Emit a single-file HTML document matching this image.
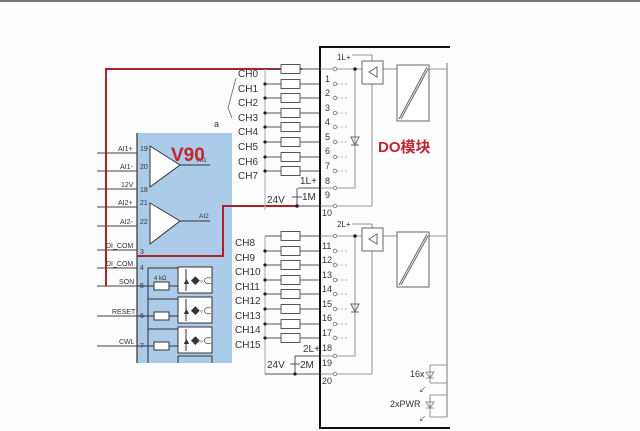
<!DOCTYPE html>
<html><head><meta charset="utf-8"><style>
html,body{margin:0;padding:0;background:#fdfcfe;}
svg{display:block;}
text{font-family:"Liberation Sans","Noto Sans CJK SC",sans-serif;fill:#333;}
</style></head><body>
<svg width="640" height="431" viewBox="0 0 640 431" xmlns="http://www.w3.org/2000/svg">
<defs>
<g id="res"><rect x="0" y="-4.5" width="19" height="9" fill="#fff" stroke="#555" stroke-width="1"/></g>
<g id="term"><circle cx="335" cy="0" r="1.8" fill="#fff" stroke="#777" stroke-width="0.8"/><line x1="337" y1="0" x2="348" y2="0" stroke="#999" stroke-width="0.8" stroke-dasharray="2,2"/></g>
</defs>
<rect x="0" y="0" width="640" height="431" fill="#fdfcfe"/>
<line x1="0" y1="1" x2="640" y2="1" stroke="#777" stroke-width="2"/>

<rect x="137" y="133" width="95" height="230" fill="#abcbe8"/>
<line x1="137" y1="133" x2="137" y2="363" stroke="#333" stroke-width="1.2"/>
<g stroke="#444" stroke-width="1">
<line x1="97" y1="153" x2="137" y2="153"/><line x1="97" y1="171" x2="137" y2="171"/>
<line x1="97" y1="189" x2="137" y2="189"/><line x1="97" y1="207" x2="137" y2="207"/>
<line x1="97" y1="226" x2="137" y2="226"/><line x1="97" y1="250" x2="137" y2="250"/>
<line x1="97" y1="268" x2="137" y2="268"/><line x1="97" y1="286" x2="137" y2="286"/>
<line x1="97" y1="316" x2="137" y2="316"/><line x1="97" y1="346" x2="137" y2="346"/>
</g>
<g font-size="7">
<text x="118" y="151">AI1+</text><text x="120" y="169">AI1-</text><text x="121" y="187">12V</text>
<text x="118" y="205">AI2+</text><text x="120" y="224">AI2-</text><text x="106" y="248">DI_COM</text>
<text x="106" y="266">DI_COM</text><text x="119" y="284">SON</text><text x="112" y="314">RESET</text><text x="119" y="344">CWL</text>
<text x="140" y="151" fill="#246">19</text><text x="140" y="169" fill="#246">20</text><text x="140" y="192" fill="#246">18</text>
<text x="140" y="205" fill="#246">21</text><text x="140" y="224" fill="#246">22</text><text x="140" y="254" fill="#246">3</text>
<text x="140" y="270" fill="#246">4</text><text x="140" y="288" fill="#246">5</text><text x="140" y="318" fill="#246">6</text><text x="140" y="348" fill="#246">7</text>
</g>
<g fill="#fff" stroke="#333" stroke-width="1">
<path d="M150 146 L180 165 L150 187 Z"/><path d="M150 203 L180 221 L150 244 Z"/>
</g>
<line x1="180" y1="165" x2="210" y2="165" stroke="#333"/><line x1="180" y1="221" x2="210" y2="221" stroke="#333"/>
<text x="197" y="162" font-size="6.5">AI1</text><text x="199" y="218" font-size="6.5">AI2</text>
<text x="171" y="161" font-size="19" font-weight="bold" style="fill:#c0262e">V90</text>
<line x1="148" y1="268" x2="148" y2="363" stroke="#234" stroke-width="1"/>
<g stroke="#333" fill="#fff">
<rect x="178" y="267" width="34" height="26"/><rect x="178" y="297" width="34" height="26"/><rect x="178" y="327" width="34" height="26"/>
<path d="M178 356 H212 M178 356 V363 M212 356 V363" fill="none"/>
<rect x="154" y="282" width="15" height="8"/><rect x="154" y="312" width="15" height="8"/><rect x="154" y="342" width="15" height="8"/>
</g>
<g stroke="#333" stroke-width="1">
<line x1="137" y1="286" x2="154" y2="286"/><line x1="169" y1="286" x2="178" y2="286"/>
<line x1="137" y1="316" x2="154" y2="316"/><line x1="169" y1="316" x2="178" y2="316"/>
<line x1="137" y1="346" x2="154" y2="346"/><line x1="169" y1="346" x2="178" y2="346"/>
<line x1="148" y1="268" x2="178" y2="268"/><line x1="148" y1="299" x2="178" y2="299"/><line x1="148" y1="329" x2="178" y2="329"/>
<line x1="186" y1="269" x2="186" y2="291"/><line x1="186" y1="299" x2="186" y2="321"/><line x1="186" y1="329" x2="186" y2="351"/>
</g>
<g font-size="9" fill="#111">
<text x="182" y="284">▲◆◦⊂</text><text x="182" y="314">▲◆◦⊂</text><text x="182" y="344">▲◆◦⊂</text>
</g>
<text x="154" y="280" font-size="6">4 kΩ</text>

<g stroke="#b0202a" stroke-width="2" fill="none">
<path d="M302 69 H106 V286"/>
<path d="M296 206 H223 V256 H137"/>
</g>

<path d="M236 78 L228 108 L232 118" fill="none" stroke="#666" stroke-width="0.8"/>
<text x="214" y="127" font-size="9">a</text>

<line x1="265" y1="69" x2="265" y2="210" stroke="#aaa" stroke-width="1"/>
<g stroke="#555" stroke-width="1">
<line x1="265" y1="69" x2="320" y2="69"/><line x1="265" y1="84" x2="320" y2="84"/><line x1="265" y1="98" x2="320" y2="98"/>
<line x1="265" y1="113" x2="320" y2="113"/><line x1="265" y1="127" x2="320" y2="127"/><line x1="265" y1="142" x2="320" y2="142"/>
<line x1="265" y1="157" x2="320" y2="157"/><line x1="265" y1="171" x2="320" y2="171"/>
<line x1="298" y1="188" x2="320" y2="188"/><line x1="297" y1="188" x2="297" y2="206"/><line x1="292" y1="197" x2="302" y2="197"/>
<line x1="320" y1="206" x2="296" y2="206"/>
</g>
<use href="#res" x="281" y="69"/><use href="#res" x="281" y="84"/><use href="#res" x="281" y="98"/><use href="#res" x="281" y="113"/>
<use href="#res" x="281" y="127"/><use href="#res" x="281" y="142"/><use href="#res" x="281" y="157"/><use href="#res" x="281" y="171"/>
<g fill="#222"><circle cx="265" cy="84" r="1.6"/><circle cx="265" cy="98" r="1.6"/><circle cx="265" cy="113" r="1.6"/><circle cx="265" cy="127" r="1.6"/><circle cx="265" cy="142" r="1.6"/><circle cx="265" cy="157" r="1.6"/><circle cx="265" cy="171" r="1.6"/><circle cx="297" cy="206" r="1.8"/></g>
<g font-size="10">
<text x="238" y="77">CH0</text><text x="238" y="92">CH1</text><text x="238" y="106">CH2</text><text x="238" y="121">CH3</text>
<text x="238" y="135">CH4</text><text x="238" y="150">CH5</text><text x="238" y="165">CH6</text><text x="238" y="179">CH7</text>
<text x="300" y="184">1L+</text><text x="267" y="203">24V</text><text x="302" y="200">1M</text>
</g>

<line x1="265" y1="236" x2="265" y2="374" stroke="#aaa" stroke-width="1"/>
<g stroke="#555" stroke-width="1">
<line x1="265" y1="236" x2="320" y2="236"/><line x1="265" y1="251" x2="320" y2="251"/><line x1="265" y1="265" x2="320" y2="265"/>
<line x1="265" y1="280" x2="320" y2="280"/><line x1="265" y1="294" x2="320" y2="294"/><line x1="265" y1="309" x2="320" y2="309"/>
<line x1="265" y1="324" x2="320" y2="324"/><line x1="265" y1="338" x2="320" y2="338"/>
<line x1="265" y1="374" x2="320" y2="374"/><line x1="295" y1="374" x2="295" y2="356"/><line x1="295" y1="356" x2="320" y2="356"/>
<line x1="290" y1="364" x2="300" y2="364"/>
</g>
<use href="#res" x="281" y="236"/><use href="#res" x="281" y="251"/><use href="#res" x="281" y="265"/><use href="#res" x="281" y="280"/>
<use href="#res" x="281" y="294"/><use href="#res" x="281" y="309"/><use href="#res" x="281" y="324"/><use href="#res" x="281" y="338"/>
<g fill="#222"><circle cx="265" cy="251" r="1.6"/><circle cx="265" cy="265" r="1.6"/><circle cx="265" cy="280" r="1.6"/><circle cx="265" cy="294" r="1.6"/><circle cx="265" cy="309" r="1.6"/><circle cx="265" cy="324" r="1.6"/><circle cx="265" cy="338" r="1.6"/><circle cx="295" cy="374" r="1.6"/></g>
<g font-size="10">
<text x="235" y="246">CH8</text><text x="235" y="261">CH9</text><text x="235" y="275">CH10</text><text x="235" y="290">CH11</text>
<text x="235" y="304">CH12</text><text x="235" y="319">CH13</text><text x="235" y="333">CH14</text><text x="235" y="348">CH15</text>
<text x="303" y="352">2L+</text><text x="267" y="368">24V</text><text x="300" y="368">2M</text>
</g>

<path d="M450 47 H320 V428 H450" fill="none" stroke="#111" stroke-width="2"/>
<line x1="447" y1="63" x2="447" y2="417" stroke="#777" stroke-width="1"/>
<g stroke="#777" stroke-width="0.8">
<line x1="320" y1="69" x2="362" y2="69"/><line x1="320" y1="188" x2="355" y2="188"/><line x1="355" y1="69" x2="355" y2="188"/>
<path d="M352 55 H372 V206 H320" fill="none"/>
<line x1="320" y1="236" x2="362" y2="236"/><line x1="320" y1="356" x2="355" y2="356"/><line x1="355" y1="236" x2="355" y2="356"/>
<path d="M352 224 H372 V374 H320" fill="none"/>
<line x1="383" y1="69" x2="397" y2="69"/><line x1="429" y1="69" x2="447" y2="69"/>
<line x1="383" y1="236" x2="397" y2="236"/><line x1="429" y1="236" x2="447" y2="236"/>
</g>
<g fill="#fff" stroke="#666" stroke-width="1">
<rect x="362" y="61" width="21" height="23"/><rect x="362" y="228" width="21" height="23"/>
<rect x="397" y="65" width="32" height="56"/><rect x="397" y="232" width="32" height="55"/>
</g>
<g stroke="#666" stroke-width="1" fill="none">
<path d="M377 67 L369 72 L377 77 Z"/><path d="M377 234 L369 239 L377 244 Z"/>
<path d="M399 119 L427 67 M401 119 L428 69"/><path d="M399 285 L427 234 M401 285 L428 236"/>
<path d="M351 137 H359 L355 145 Z M351 145 H359"/><path d="M351 304 H359 L355 312 Z M351 312 H359"/>
</g>
<g fill="#222"><circle cx="355" cy="69" r="1.8"/><circle cx="355" cy="236" r="1.8"/></g>
<g font-size="8">
<text x="337" y="60">1L+</text><text x="337" y="227">2L+</text>
</g>
<g font-size="9">
<text x="325" y="82">1</text><text x="325" y="96">2</text><text x="325" y="111">3</text><text x="325" y="125">4</text>
<text x="325" y="140">5</text><text x="325" y="154">6</text><text x="325" y="169">7</text><text x="325" y="184">8</text>
<text x="325" y="198">9</text><text x="322" y="216">10</text>
<text x="322" y="249">11</text><text x="322" y="263">12</text><text x="322" y="278">13</text><text x="322" y="292">14</text>
<text x="322" y="307">15</text><text x="322" y="321">16</text><text x="322" y="336">17</text><text x="322" y="351">18</text>
<text x="322" y="366">19</text><text x="322" y="384">20</text>
</g>
<use href="#term" y="69"/><use href="#term" y="84"/><use href="#term" y="98"/><use href="#term" y="113"/><use href="#term" y="127"/>
<use href="#term" y="142"/><use href="#term" y="157"/><use href="#term" y="171"/><use href="#term" y="188"/><use href="#term" y="206"/>
<use href="#term" y="236"/><use href="#term" y="251"/><use href="#term" y="265"/><use href="#term" y="280"/><use href="#term" y="294"/>
<use href="#term" y="309"/><use href="#term" y="324"/><use href="#term" y="338"/><use href="#term" y="356"/><use href="#term" y="374"/>
<text x="378" y="152" font-size="15" font-weight="bold" style="fill:#c0262e">DO模块</text>
<g stroke="#777" stroke-width="0.8" fill="none">
<path d="M430 365 H447 M430 383 H447 M430 365 V383 M426 372 H434 L430 378 Z M426 378 H434"/>
<path d="M430 395 H447 M430 417 H447 M430 395 V417 M426 402 H434 L430 408 Z M426 408 H434"/>
</g>
<text x="410" y="377" font-size="9">16x</text><text x="390" y="407" font-size="9">2xPWR</text>
<text x="419" y="392" font-size="7" fill="#222">↙</text><text x="419" y="421" font-size="7" fill="#222">↙</text>
</svg>
</body></html>
